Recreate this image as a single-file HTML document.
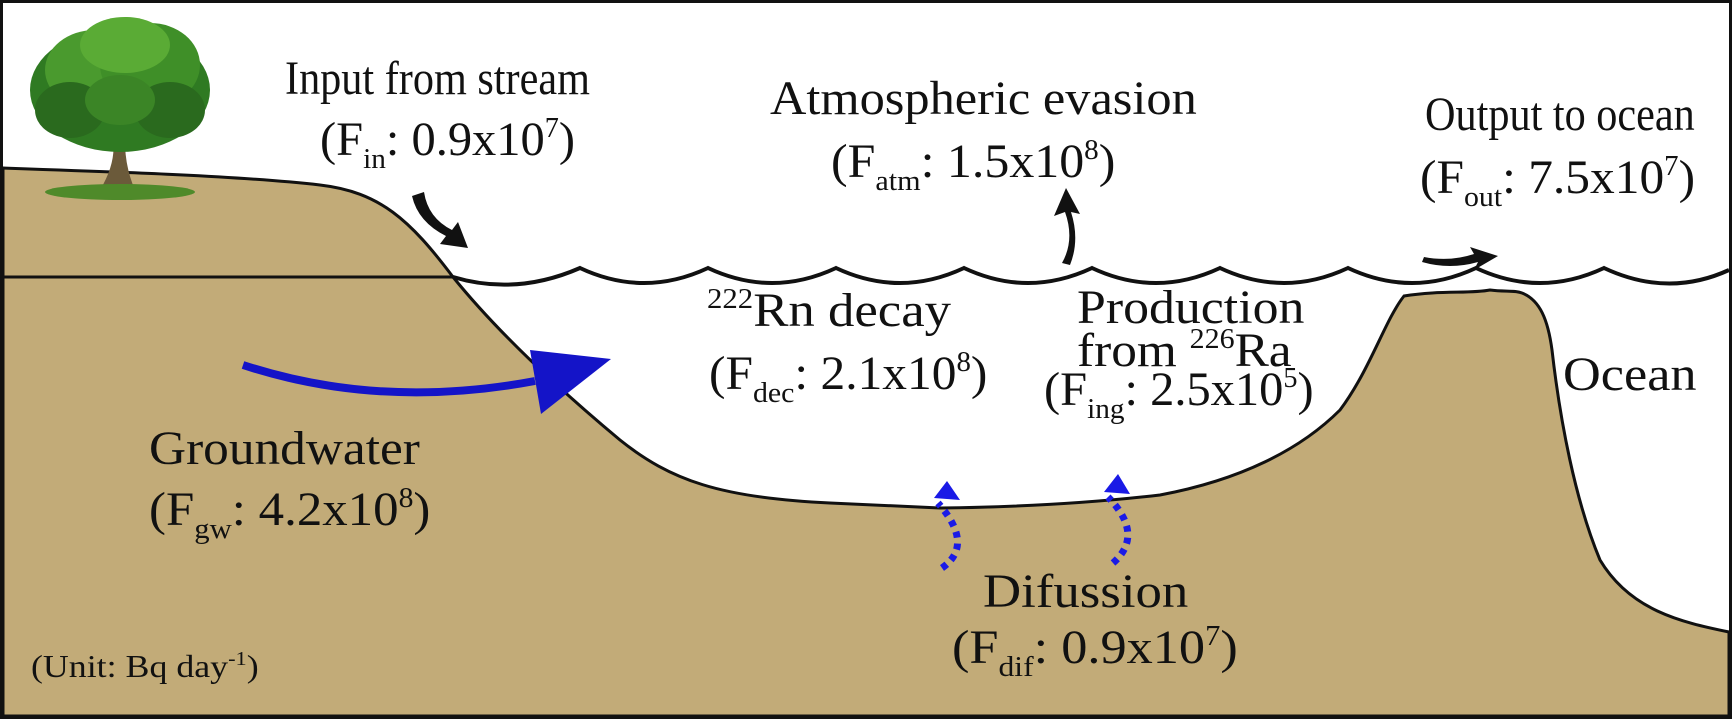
<!DOCTYPE html>
<html><head><meta charset="utf-8"><style>
html,body{margin:0;padding:0;background:#fff;}
svg{display:block;}
text{font-family:"Liberation Serif",serif;fill:#111;}
</style></head><body>
<svg width="1732" height="719" viewBox="0 0 1732 719" xmlns="http://www.w3.org/2000/svg">
<rect x="0" y="0" width="1732" height="719" fill="#fff"/>
<!-- land -->
<path d="M3,168 C120,172 240,176 320,185 C380,192 410,220 453,277 C500,335 560,390 620,440 C670,480 720,498 830,503 L940,508 C1030,507 1100,502 1160,495 C1240,480 1300,450 1340,410 C1370,370 1385,320 1404,296 C1440,290 1470,294 1490,290 C1505,292 1515,290 1522,293 C1540,300 1548,320 1552,350 C1560,420 1575,500 1600,560 C1630,610 1680,622 1729,632 L1729,716 L3,716 Z" fill="#c2ab78" stroke="#111" stroke-width="3"/>
<line x1="3" y1="277" x2="453" y2="277" stroke="#111" stroke-width="3"/>
<!-- waves -->
<path d="M453,277 Q516,296 580,268 Q644,298 708,268 Q772,298 836,268 Q900,298 964,268 Q1028,298 1092,268 Q1156,298 1220,268 Q1284,298 1348,268 Q1412,298 1476,268 Q1540,298 1604,268 Q1668,298 1729,270" fill="none" stroke="#111" stroke-width="4"/>
<!-- border -->
<rect x="1.5" y="1.5" width="1729" height="716" fill="none" stroke="#111" stroke-width="3"/>
<!-- tree -->
<g>
<path d="M100,190 Q118,160 112,135 L125,135 Q124,165 135,190 Z" fill="#6b5a3a"/>
<ellipse cx="120" cy="192" rx="75" ry="8" fill="#4f8a2a"/>
<ellipse cx="120" cy="90" rx="90" ry="62" fill="#2f7a22"/>
<ellipse cx="95" cy="70" rx="50" ry="40" fill="#4a9a2e"/>
<ellipse cx="150" cy="65" rx="50" ry="42" fill="#3f8f28"/>
<ellipse cx="125" cy="45" rx="45" ry="28" fill="#5aab35"/>
<ellipse cx="70" cy="110" rx="35" ry="28" fill="#2a6a1e"/>
<ellipse cx="170" cy="110" rx="35" ry="28" fill="#2a6a1e"/>
<ellipse cx="120" cy="100" rx="35" ry="25" fill="#3b8526"/>
</g>
<!-- stream arrow -->
<path d="M412,196 Q418,222 446,236 L440,244 L468,248 L458,222 L452,230 Q428,218 424,192 Z" fill="#111"/>
<!-- atm arrow -->
<path d="M1062,263 Q1075,240 1065,212 L1054,216 L1066,188 L1080,214 L1071,212 Q1080,240 1070,265 Z" fill="#111"/>
<!-- out arrow -->
<path d="M1422,262 Q1450,270 1478,262 L1474,270 L1498,256 L1470,247 L1474,254 Q1450,262 1424,257 Z" fill="#111"/>
<!-- groundwater arrow -->
<path d="M243,365 Q380,410 535,381" fill="none" stroke="#1414c8" stroke-width="8"/>
<path d="M530,350 L611,359 L541,414 Z" fill="#1414c8"/>
<!-- diffusion arrows -->
<path d="M942,568 Q975,545 938,503" fill="none" stroke="#1a1ae6" stroke-width="7" stroke-dasharray="6,6"/>
<path d="M947,481 L934,498 L960,500 Z" fill="#1a1ae6"/>
<path d="M1113,563 Q1145,535 1108,497" fill="none" stroke="#1a1ae6" stroke-width="7" stroke-dasharray="6,6"/>
<path d="M1118,474 L1104,492 L1130,494 Z" fill="#1a1ae6"/>
<!-- labels -->
<text transform="translate(285,94) scale(0.88,1)" font-size="48">Input from stream</text>
<text transform="translate(320,155) scale(1.01,1)" font-size="48">(F<tspan font-size="29" dy="13">in</tspan><tspan dy="-13">: 0.9x10</tspan><tspan font-size="28" dy="-18">7</tspan><tspan dy="18">)</tspan></text>
<text transform="translate(770,114) scale(1.05,1)" font-size="48">Atmospheric evasion</text>
<text transform="translate(831,177) scale(1.04,1)" font-size="48">(F<tspan font-size="29" dy="13">atm</tspan><tspan dy="-13">: 1.5x10</tspan><tspan font-size="28" dy="-18">8</tspan><tspan dy="18">)</tspan></text>
<text transform="translate(1425,130) scale(0.88,1)" font-size="48">Output to ocean</text>
<text transform="translate(1420,193) scale(1.03,1)" font-size="48">(F<tspan font-size="29" dy="13">out</tspan><tspan dy="-13">: 7.5x10</tspan><tspan font-size="28" dy="-18">7</tspan><tspan dy="18">)</tspan></text>
<text transform="translate(707,326) scale(1.1,1)" font-size="48"><tspan font-size="28" dy="-18">222</tspan><tspan dy="18">Rn decay</tspan></text>
<text transform="translate(709,389) scale(1.03,1)" font-size="48">(F<tspan font-size="29" dy="13">dec</tspan><tspan dy="-13">: 2.1x10</tspan><tspan font-size="28" dy="-18">8</tspan><tspan dy="18">)</tspan></text>
<text transform="translate(1077,323) scale(1.08,1)" font-size="48">Production</text>
<text transform="translate(1077,366) scale(1.07,1)" font-size="48">from <tspan font-size="28" dy="-18">226</tspan><tspan dy="18">Ra</tspan></text>
<text transform="translate(1044,405) scale(1.01,1)" font-size="48">(F<tspan font-size="29" dy="13">ing</tspan><tspan dy="-13">: 2.5x10</tspan><tspan font-size="28" dy="-18">5</tspan><tspan dy="18">)</tspan></text>
<text transform="translate(1563,390) scale(1.09,1)" font-size="48">Ocean</text>
<text transform="translate(149,464) scale(1.07,1)" font-size="48">Groundwater</text>
<text transform="translate(149,525) scale(1.06,1)" font-size="48">(F<tspan font-size="29" dy="13">gw</tspan><tspan dy="-13">: 4.2x10</tspan><tspan font-size="28" dy="-18">8</tspan><tspan dy="18">)</tspan></text>
<text transform="translate(983,607) scale(1.1,1)" font-size="48">Difussion</text>
<text transform="translate(952,663) scale(1.09,1)" font-size="48">(F<tspan font-size="29" dy="13">dif</tspan><tspan dy="-13">: 0.9x10</tspan><tspan font-size="28" dy="-18">7</tspan><tspan dy="18">)</tspan></text>
<text transform="translate(31,677) scale(1.12,1)" font-size="32">(Unit: Bq day<tspan font-size="20" dy="-12">-1</tspan><tspan dy="12">)</tspan></text>
</svg>
</body></html>
